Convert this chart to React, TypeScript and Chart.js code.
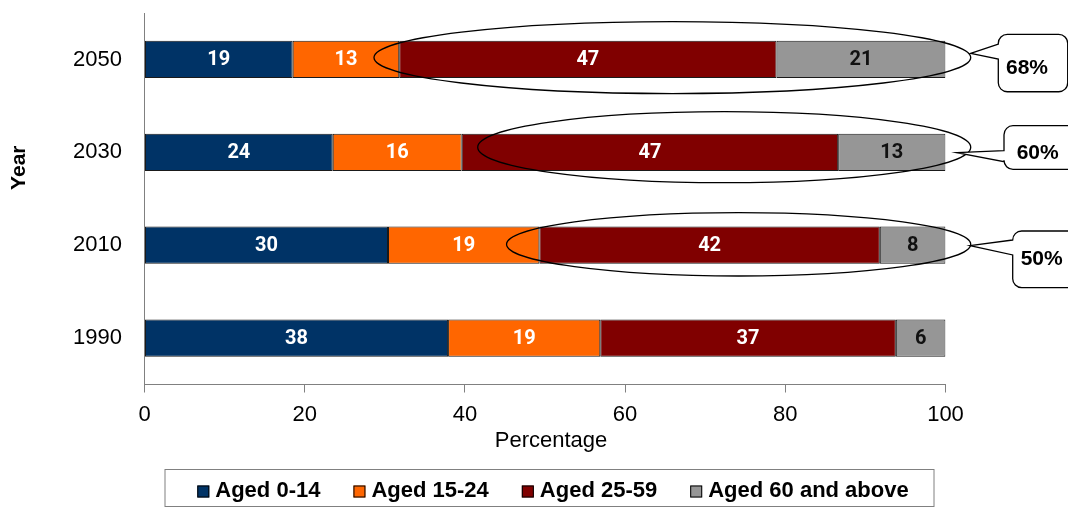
import React, { useEffect, useRef } from 'react';
import { Chart, registerables } from 'chart.js';

Chart.register(...registerables);

// ---------- data ----------
const years = ['2050', '2030', '2010', '1990'];
const seriesNames = ['Aged 0-14', 'Aged 15-24', 'Aged 25-59', 'Aged 60 and above'];
const aged0to14 = [18.5, 23.5, 30.4, 37.9];
const aged15to24 = [13.3, 16.1, 18.9, 19.0];
const aged25to59 = [47.1, 47.0, 42.5, 36.9];
const aged60plus = [21.1, 13.4, 8.2, 6.2];
// printed segment labels
const labels0to14 = [19, 24, 30, 38];
const labels15to24 = [13, 16, 19, 19];
const labels25to59 = [47, 47, 42, 37];
const labels60plus = [21, 13, 8, 6];
const xTickValues = [0, 20, 40, 60, 80, 100];
// annotations: share of 25+ population, ringed years
const calloutTexts = ['68%', '60%', '50%'];
const ringFrom = [28.65, 41.6, 45.2];
const ringTo = [103.15, 103.15, 103.15];

// ---------- styles ----------
const colors = ['#003366', '#FF6600', '#800000', '#969696'];
const labelColors = ['#ffffff', '#ffffff', '#ffffff', '#111111'];
const FONT = "'Liberation Sans', Arial, sans-serif";

const ringGeom = [
  { dy: -1.9, ry: 36 },
  { dy: -5.1, ry: 35.5 },
  { dy: -0.9, ry: 31.7 },
];
// offsets in px: x from plot right edge, y from bar centre
const calloutGeom = [
  { box: [52.8, -25.1, 122.2, 32.3], base: [-15.4, -0.4], tip: [25.2, -6.1], text: [81.5, 8.9] },
  { box: [58.5, -26.6, 150, 17.0], base: [-1.6, 9.4], tip: [11.2, 0.4], text: [92.2, 0.4] },
  { box: [67.2, -14.2, 150, 42.5], base: [-5.2, 9.8], tip: [24.5, 0.5], text: [96.2, 13.8] },
];

const annotatePlugin = {
  id: 'annotate',
  afterDatasetsDraw(chart: any) {
    const ctx = chart.ctx;
    const xs = chart.scales.x;
    const ys = chart.scales.y;
    const segLabels = [labels0to14, labels15to24, labels25to59, labels60plus];

    // rings
    ctx.save();
    ctx.strokeStyle = '#000';
    ctx.lineWidth = 1.3;
    ringFrom.forEach((from, i) => {
      const x1 = xs.getPixelForValue(from);
      const x2 = xs.getPixelForValue(ringTo[i]);
      const cy = ys.getPixelForValue(i) + ringGeom[i].dy;
      ctx.beginPath();
      ctx.ellipse((x1 + x2) / 2, cy, (x2 - x1) / 2, ringGeom[i].ry, 0, 0, Math.PI * 2);
      ctx.stroke();
    });
    ctx.restore();

    // segment labels
    ctx.save();
    ctx.font = `bold 20px Roboto, ${FONT}`;
    ctx.textAlign = 'center';
    ctx.textBaseline = 'middle';
    chart.data.datasets.forEach((_ds: any, di: number) => {
      const meta = chart.getDatasetMeta(di);
      meta.data.forEach((bar: any, i: number) => {
        const p = bar.getProps(['x', 'y', 'base'], true);
        ctx.fillStyle = labelColors[di];
        ctx.fillText(String(segLabels[di][i]), (p.x + p.base) / 2, p.y + 0.5);
      });
    });
    ctx.restore();
  },
  afterDraw(chart: any) {
    const ctx = chart.ctx;
    const xs = chart.scales.x;
    const ys = chart.scales.y;
    const area = chart.chartArea;

    // axis titles
    ctx.save();
    ctx.fillStyle = '#000';
    ctx.textAlign = 'center';
    ctx.textBaseline = 'middle';
    ctx.font = `22px ${FONT}`;
    ctx.fillText('Percentage', area.left + 406.5, 441);
    ctx.translate(19.7, 167.7);
    ctx.rotate(-Math.PI / 2);
    ctx.font = `bold 21px ${FONT}`;
    ctx.fillText('Year', 0, 0);
    ctx.restore();

    // callouts
    ctx.save();
    const right = xs.getPixelForValue(100);
    calloutTexts.forEach((txt, i) => {
      const g = calloutGeom[i];
      const cy = ys.getPixelForValue(i);
      const x0 = right + g.box[0];
      const y0 = cy + g.box[1];
      const x1 = right + g.box[2];
      const y1 = cy + g.box[3];
      const r = 9;
      ctx.beginPath();
      ctx.moveTo(x0, cy + g.base[0]);
      ctx.lineTo(right + g.tip[0], cy + g.tip[1]);
      ctx.lineTo(x0, cy + g.base[1]);
      ctx.lineTo(x0, y1 - r);
      ctx.arcTo(x0, y1, x0 + r, y1, r);
      ctx.lineTo(x1 - r, y1);
      ctx.arcTo(x1, y1, x1, y1 - r, r);
      ctx.lineTo(x1, y0 + r);
      ctx.arcTo(x1, y0, x1 - r, y0, r);
      ctx.lineTo(x0 + r, y0);
      ctx.arcTo(x0, y0, x0, y0 + r, r);
      ctx.closePath();
      ctx.fillStyle = '#fff';
      ctx.fill();
      ctx.strokeStyle = '#000';
      ctx.lineWidth = 1.3;
      ctx.stroke();
      ctx.fillStyle = '#000';
      ctx.font = `bold 21px ${FONT}`;
      ctx.textAlign = 'center';
      ctx.textBaseline = 'middle';
      ctx.fillText(txt, right + g.text[0], cy + g.text[1]);
    });
    ctx.restore();

    // legend
    ctx.save();
    ctx.strokeStyle = '#808080';
    ctx.lineWidth = 1;
    ctx.strokeRect(area.left + 20.5, 469.5, 769, 37);
    ctx.font = `bold 22px ${FONT}`;
    ctx.textBaseline = 'middle';
    ctx.textAlign = 'left';
    const box = 12;
    const gapText = 6;
    const gapItem = 33;
    const widths = seriesNames.map((n) => ctx.measureText(n).width);
    const total = widths.reduce((a, w) => a + box + gapText + w, 0) + gapItem * (seriesNames.length - 1);
    let x = area.left + 408.5 - total / 2;
    seriesNames.forEach((n, i) => {
      ctx.fillStyle = colors[i];
      ctx.fillRect(x, 485.5, box, box);
      ctx.strokeStyle = '#000';
      ctx.strokeRect(x + 0.5, 485.5 + 0.5, box - 1, box - 1);
      ctx.fillStyle = '#000';
      ctx.fillText(n, x + box + gapText, 490.5);
      x += box + gapText + widths[i] + gapItem;
    });
    ctx.restore();
  },
};

export default function App() {
  const ref = useRef<HTMLCanvasElement>(null);

  useEffect(() => {
    if (!ref.current) return;
    const values = [aged0to14, aged15to24, aged25to59, aged60plus];
    const chart = new Chart(ref.current, {
      type: 'bar',
      data: {
        labels: years,
        datasets: seriesNames.map((name, i) => ({
          label: name,
          data: values[i],
          backgroundColor: colors[i],
          borderColor: '#1a1a1a',
          borderWidth: 1,
          borderSkipped: false,
          barPercentage: 0.4,
          categoryPercentage: 1,
        })),
      },
      options: {
        indexAxis: 'y',
        responsive: false,
        animation: false,
        events: [],
        layout: { padding: { left: 0, top: 13, right: 122.5, bottom: 39 } },
        plugins: {
          legend: { display: false },
          tooltip: { enabled: false },
          title: { display: false },
        },
        scales: {
          x: {
            stacked: true,
            min: 0,
            max: 100,
            afterBuildTicks: (s: any) => {
              s.ticks = xTickValues.map((v) => ({ value: v }));
            },
            afterFit: (s: any) => {
              s.height = 84.5;
            },
            ticks: {
              color: '#000',
              font: { family: FONT, size: 22 },
              padding: 9,
            },
            grid: {
              display: true,
              drawOnChartArea: false,
              drawTicks: true,
              tickLength: 8,
              color: '#808080',
            },
            border: { display: true, color: '#808080', width: 1 },
          },
          y: {
            stacked: true,
            afterFit: (s: any) => {
              s.width = 144.5;
              s.paddingTop = 0;
              s.paddingBottom = 0;
            },
            ticks: {
              color: '#000',
              font: { family: FONT, size: 22 },
              padding: 0,
            },
            grid: { display: false, drawTicks: true, tickLength: 22.5 },
            border: { display: true, color: '#808080', width: 1 },
          },
        },
      },
      plugins: [annotatePlugin],
    });
    return () => chart.destroy();
  }, []);

  return (
    <div style={{ position: 'fixed', left: 0, top: 0, width: 1068, height: 508, background: '#fff' }}>
      <canvas ref={ref} width={1068} height={508} style={{ width: 1068, height: 508 }} />
    </div>
  );
}
